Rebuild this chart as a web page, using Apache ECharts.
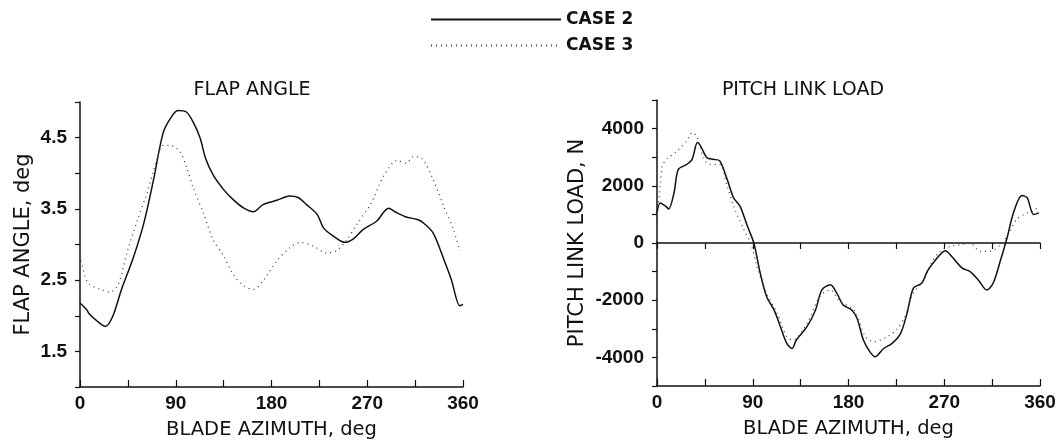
<!DOCTYPE html>
<html>
<head>
<meta charset="utf-8">
<script src="https://cdn.jsdelivr.net/npm/echarts@6/dist/echarts.min.js"></script>
<style>
html, body { margin: 0; padding: 0; background: #fff; }
#main { width: 1060px; height: 445px; }
</style>
</head>
<body>
<div id="main"></div>
<script>
// flap angle, deg vs blade azimuth, deg
var flapCase2Az = [0,6,9,19,24,31,39,50,60,69,78,85,92,100,107,113,118,125,135,144,154,163,172,185,197,205,213,223,229,238,249,257,266,279,290,296,306,317,323,332,342,349,357,360];
var flapCase2 = [2.18,2.09,2.02,1.89,1.85,2.0,2.37,2.81,3.30,3.9,4.56,4.77,4.88,4.86,4.70,4.49,4.21,3.98,3.77,3.63,3.51,3.46,3.56,3.62,3.68,3.66,3.56,3.42,3.23,3.12,3.03,3.08,3.21,3.33,3.51,3.46,3.39,3.35,3.30,3.16,2.79,2.51,2.14,2.16];
var flapCase3Az = [0,5,9,19,28,36,44,53,63,72,78,85,94,100,107,116,125,135,144,154,163,172,185,197,207,219,232,241,251,260,273,285,298,307,313,321,332,342,351,357];
var flapCase3 = [2.84,2.54,2.44,2.37,2.33,2.44,2.88,3.30,3.72,4.18,4.39,4.39,4.30,4.09,3.77,3.44,3.07,2.84,2.58,2.42,2.37,2.49,2.77,2.95,3.03,2.98,2.88,2.91,3.07,3.28,3.56,3.95,4.18,4.14,4.23,4.21,3.91,3.53,3.21,2.91];

// pitch link load, N vs blade azimuth, deg
var loadCase2Az = [0,3,8,11,16,20,28,33,38,41,47,53,59,66,72,78,85,91,97,103,110,116,122,127,131,141,149,155,163,169,175,183,188,194,200,205,213,221,229,235,241,249,254,262,271,277,287,294,302,310,316,323,329,335,343,348,354,359];
var loadCase2 = [1050,1400,1290,1190,1755,2570,2750,2925,3510,3390,2980,2925,2870,2220,1580,1290,585,0,-1050,-1870,-2340,-2925,-3510,-3690,-3390,-2925,-2340,-1640,-1460,-1755,-2165,-2340,-2630,-3390,-3800,-3980,-3690,-3510,-3160,-2460,-1580,-1400,-995,-585,-270,-470,-880,-995,-1290,-1640,-1400,-585,175,1050,1660,1580,995,1053];
var loadCase3Az = [0,3,5,9,19,28,33,38,44,50,59,66,72,81,88,94,103,113,122,128,141,153,163,172,185,196,204,216,225,233,241,251,257,266,276,285,294,304,313,323,329,338,348,354,359];
var loadCase3 = [900,2000,2700,2925,3220,3570,3860,3690,2925,2750,2750,1990,1290,525,0,-820,-1755,-2460,-3280,-3390,-2810,-1870,-1640,-2050,-2340,-3280,-3450,-3280,-3040,-2570,-1755,-1290,-760,-290,-117,-60,0,-290,-290,-60,235,820,1050,1110,1345];

var legendNames = ['CASE 2', 'CASE 3'];
var xTitle = 'BLADE AZIMUTH, deg';

function pairs(xs, ys) {
	var out = [];
	for (var i = 0; i < xs.length; i++) {
		out.push([xs[i], ys[i]]);
	}
	return out;
}

var ink = '#111';
var font = 'Liberation Sans, Arial, sans-serif';
var wideFont = 'DejaVu Sans, sans-serif';
var labelStyle = { color: ink, fontSize: 19, fontWeight: 'bold', fontFamily: font };

function xAxisFor(gridIndex) {
	return {
		type: 'value',
		gridIndex: gridIndex,
		min: 0,
		max: 360,
		interval: 45,
		name: xTitle,
		nameLocation: 'middle',
		nameGap: 33,
		nameTextStyle: { color: ink, fontSize: 19.5, fontFamily: wideFont },
		axisLine: { onZero: false, lineStyle: { color: ink, width: 1.5 } },
		axisTick: { inside: true, length: 7, lineStyle: { color: ink, width: 1.2 } },
		axisLabel: Object.assign({
			margin: 7,
			formatter: function (v) { return v % 90 === 0 ? String(v) : ''; }
		}, labelStyle),
		splitLine: { show: false }
	};
}

var myChart = echarts.init(document.getElementById('main'));

var solid = { color: ink, width: 1.5, type: 'solid' };
var dotted = { color: '#444', width: 1.3, type: [1, 4] };

var option = {
	backgroundColor: '#fff',
	animation: false,
	title: [
		{ text: 'FLAP ANGLE', left: 247, top: 76, textAlign: 'center',
		  textStyle: { color: ink, fontSize: 19, fontWeight: 'normal', fontFamily: wideFont } },
		{ text: 'PITCH LINK LOAD', left: 798, top: 76, textAlign: 'center',
		  textStyle: { color: ink, fontSize: 19, fontWeight: 'normal', fontFamily: wideFont } }
	],
	legend: {
		data: legendNames,
		orient: 'vertical',
		left: 425,
		top: 6,
		itemWidth: 130,
		itemHeight: 20,
		itemGap: 9,
		itemStyle: { color: 'rgba(0,0,0,0)', borderWidth: 0 },
		textStyle: { color: ink, fontSize: 17, fontWeight: 'bold', fontFamily: wideFont }
	},
	grid: [
		{ left: 80, right: 597, top: 102, bottom: 57 },
		{ left: 657, right: 20, top: 100, bottom: 59 }
	],
	xAxis: [
		xAxisFor(0),
		xAxisFor(1),
		{
			// zero line across the pitch link load panel
			type: 'value',
			gridIndex: 1,
			position: 'top',
			min: 0,
			max: 360,
			interval: 45,
			axisLine: { onZero: true, lineStyle: { color: ink, width: 1.5 } },
			axisTick: { inside: true, length: 6, lineStyle: { color: ink, width: 1.2 } },
			axisLabel: { show: false },
			splitLine: { show: false }
		}
	],
	yAxis: [
		{
			type: 'value',
			gridIndex: 0,
			min: 1,
			max: 5,
			interval: 0.5,
			name: 'FLAP ANGLE, deg',
			nameLocation: 'middle',
			nameGap: 46,
			nameTextStyle: { color: ink, fontSize: 21, fontFamily: wideFont },
			axisLine: { show: true, lineStyle: { color: ink, width: 1.5 } },
			axisTick: { show: true, length: 5, lineStyle: { color: ink, width: 1.2 } },
			axisLabel: Object.assign({
				margin: 13,
				formatter: function (v) {
					var r = Math.round(v * 10);
					return (r % 10 === 5 && r < 50) ? v.toFixed(1) : '';
				}
			}, labelStyle),
			splitLine: { show: false }
		},
		{
			type: 'value',
			gridIndex: 1,
			min: -5000,
			max: 5000,
			interval: 1000,
			name: 'PITCH LINK LOAD, N',
			nameLocation: 'middle',
			nameGap: 69,
			nameTextStyle: { color: ink, fontSize: 21, fontFamily: wideFont },
			axisLine: { show: true, onZero: false, lineStyle: { color: ink, width: 1.5 } },
			axisTick: { show: true, length: 5, lineStyle: { color: ink, width: 1.2 } },
			axisLabel: Object.assign({
				margin: 13,
				formatter: function (v) {
					return (v % 2000 === 0 && Math.abs(v) < 5000) ? String(v) : '';
				}
			}, labelStyle),
			splitLine: { show: false }
		}
	],
	series: [
		{
			name: 'CASE 2', type: 'line', xAxisIndex: 0, yAxisIndex: 0,
			symbol: 'none', smooth: 0.3, lineStyle: solid, itemStyle: { color: ink },
			data: pairs(flapCase2Az, flapCase2)
		},
		{
			name: 'CASE 3', type: 'line', xAxisIndex: 0, yAxisIndex: 0,
			symbol: 'none', smooth: 0.3, lineStyle: dotted, itemStyle: { color: '#444' },
			data: pairs(flapCase3Az, flapCase3)
		},
		{
			name: 'CASE 2', type: 'line', xAxisIndex: 1, yAxisIndex: 1,
			symbol: 'none', smooth: 0.3, lineStyle: solid, itemStyle: { color: ink },
			data: pairs(loadCase2Az, loadCase2)
		},
		{
			name: 'CASE 3', type: 'line', xAxisIndex: 1, yAxisIndex: 1,
			symbol: 'none', smooth: 0.3, lineStyle: dotted, itemStyle: { color: '#444' },
			data: pairs(loadCase3Az, loadCase3)
		}
	]
};

myChart.setOption(option);
</script>
</body>
</html>
